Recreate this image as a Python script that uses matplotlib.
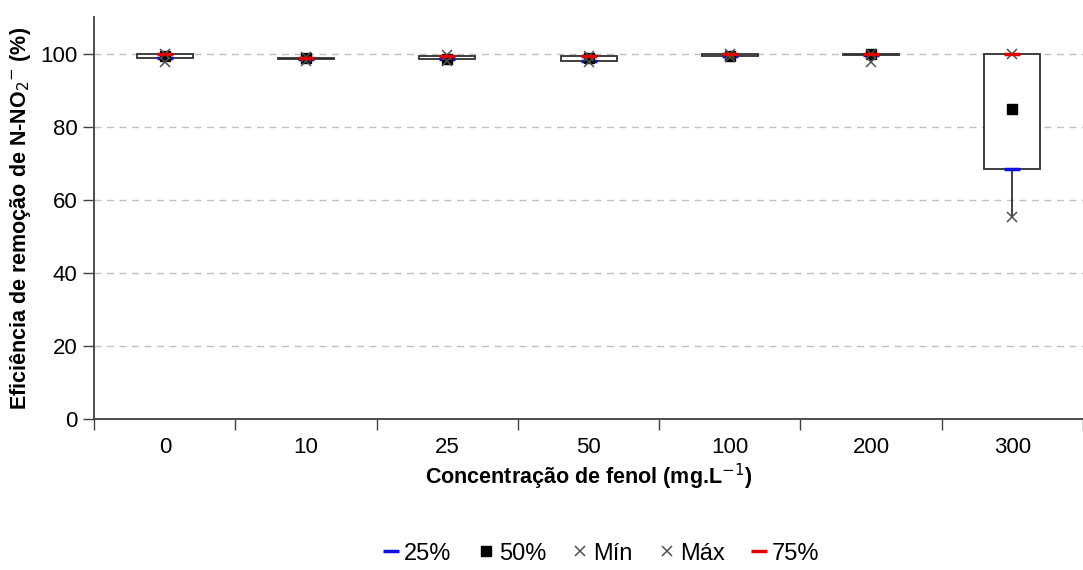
import numpy as np
import matplotlib
matplotlib.use("Agg")
import matplotlib.pyplot as plt

plt.rcParams['font.family'] = ['Liberation Sans', 'DejaVu Sans']

concentracoes = ["0", "10", "25", "50", "100", "200", "300"]
q1 = [98.8, 98.5, 98.5, 98.1, 99.3, 99.6, 68.4]
mediana = [99.3, 98.7, 98.6, 98.7, 99.3, 99.8, 84.8]
q3 = [100.0, 98.8, 99.3, 99.4, 99.8, 100.0, 100.0]
minimo = [97.6, 98.0, 98.0, 97.7, 99.1, 97.8, 55.3]
maximo = [100.0, 99.0, 99.7, 99.4, 99.8, 100.0, 99.8]

x = np.arange(len(concentracoes))

fig = plt.figure(figsize=(10.83, 5.70), dpi=100)
ax = fig.add_axes([0.087, 0.265, 0.913, 0.705])

ax.set_ylim(0, 110)
ax.set_xlim(-0.5, 6.45)
ax.set_yticks([0, 20, 40, 60, 80, 100])
ax.yaxis.grid(True, linestyle=(0, (5, 4)), color="#c0c0c0", linewidth=1)
ax.set_axisbelow(True)

# caixas e bigodes
alturas = np.array(q3) - np.array(q1)
ax.bar(x, alturas, bottom=q1, width=0.395, facecolor="white",
       edgecolor="#303030", linewidth=1.3, zorder=2)
ax.vlines(x, minimo, q1, color="#303030", linewidth=1.3, zorder=2)
ax.vlines(x, q3, maximo, color="#303030", linewidth=1.3, zorder=2)

ax.plot(x, q1, linestyle="none", marker="_", markersize=11, markeredgewidth=2.5,
        color="#1010e0", label="25%", zorder=3)
ax.plot(x, mediana, linestyle="none", marker="s", markersize=7.5,
        color="black", label="50%", zorder=4)
ax.plot(x, minimo, linestyle="none", marker="x", markersize=7.5, markeredgewidth=1.1,
        color="#505050", label="Mín", zorder=4)
ax.plot(x, maximo, linestyle="none", marker="x", markersize=7.5, markeredgewidth=1.1,
        color="#505050", label="Máx", zorder=4)
ax.plot(x, q3, linestyle="none", marker="_", markersize=11, markeredgewidth=2.5,
        color="#e00000", label="75%", zorder=5)

ax.set_xticks(x)
ax.set_xticklabels(concentracoes)
ax.set_xticks(np.arange(-0.5, 7, 1), minor=True)
ax.tick_params(axis="x", which="major", length=0, labelsize=16, pad=13)
ax.tick_params(axis="x", which="minor", length=8, width=1, color="#404040", direction="out")
ax.tick_params(axis="y", length=8, width=1, color="#404040", labelsize=16, pad=4)

for s in ["top", "right"]:
    ax.spines[s].set_visible(False)
for s in ["left", "bottom"]:
    ax.spines[s].set_color("#404040")
    ax.spines[s].set_linewidth(1.3)

ax.set_xlabel("Concentração de fenol (mg.L$^{-1}$)", fontsize=15.5, fontweight="bold", labelpad=3)
ax.set_ylabel("Eficiência de remoção de N-NO$_2$$^{-}$ (%)", fontsize=15.5, fontweight="bold", labelpad=5)

fig.legend(loc="lower center", bbox_to_anchor=(0.555, -0.028), ncol=5, frameon=False,
           fontsize=17, handletextpad=0.2, columnspacing=1.1, handlelength=0.7)

fig.savefig("out.png", dpi=100)
